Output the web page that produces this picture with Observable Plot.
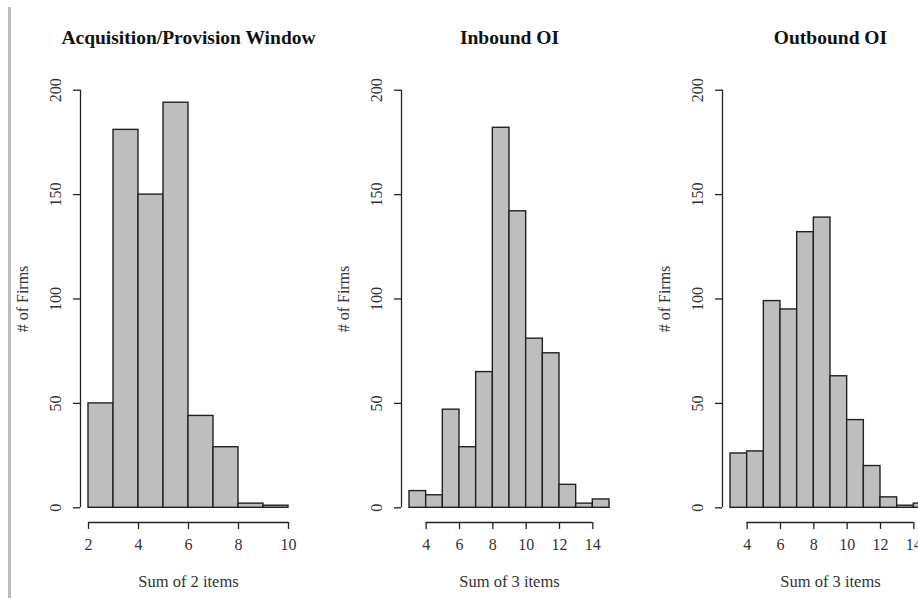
<!DOCTYPE html>
<html>
<head>
<meta charset="utf-8">
<script src="https://cdn.jsdelivr.net/npm/d3@7"></script>
<script src="https://cdn.jsdelivr.net/npm/@observablehq/plot@0.6"></script>
<style>
  html, body { margin: 0; padding: 0; background: #fff; overflow: hidden; }
  #wrap { position: relative; width: 918px; height: 598px; overflow: hidden; }
  #edge { position: absolute; left: 8px; top: 7px; width: 3px; height: 591px; background: #bdbdbd; }
  .panel { position: absolute; top: 0; }
</style>
</head>
<body>
<div id="wrap"><div id="edge"></div></div>
<script>
// ---- data ----
const titles = ["Acquisition/Provision Window", "Inbound OI", "Outbound OI"];
const xLabels = ["Sum of 2 items", "Sum of 3 items", "Sum of 3 items"];
const yLabel = "# of Firms";
const yTicks = [0, 50, 100, 150, 200];

const acqBreaks = [2, 3, 4, 5, 6, 7, 8, 9, 10];
const acqCounts = [50, 181, 150, 194, 44, 29, 2, 1];
const acqTicks = [2, 4, 6, 8, 10];

const inBreaks = [3, 4, 5, 6, 7, 8, 9, 10, 11, 12, 13, 14, 15];
const inCounts = [8, 6, 47, 29, 65, 182, 142, 81, 74, 11, 2, 4];
const inTicks = [4, 6, 8, 10, 12, 14];

const outBreaks = [3, 4, 5, 6, 7, 8, 9, 10, 11, 12, 13, 14, 15];
const outCounts = [26, 27, 99, 95, 132, 139, 63, 42, 20, 5, 1, 2];
const outTicks = [4, 6, 8, 10, 12, 14];

const panels = [
  {breaks: acqBreaks, counts: acqCounts, ticks: acqTicks, left: 0},
  {breaks: inBreaks, counts: inCounts, ticks: inTicks, left: 321},
  {breaks: outBreaks, counts: outCounts, ticks: outTicks, left: 642}
];

const FONT = "'Liberation Serif', 'DejaVu Serif', serif";
const wrap = document.getElementById("wrap");

panels.forEach((p, i) => {
  const bins = p.counts.map((c, k) => ({x1: p.breaks[k], x2: p.breaks[k + 1], y: c}));
  const lo = p.breaks[0], hi = p.breaks[p.breaks.length - 1];
  const pad = (hi - lo) * 0.04;
  const xDom = [lo - pad, hi + pad];
  const yDom = [-8, 208];

  const chart = Plot.plot({
    width: 336,
    height: 598,
    marginLeft: 80,
    marginRight: 40,
    marginTop: 73,
    marginBottom: 74,
    style: {fontFamily: FONT, fontSize: "16px", color: "#222", background: "transparent"},
    x: {type: "linear", domain: xDom, axis: null},
    y: {type: "linear", domain: yDom, axis: null},
    marks: [
      Plot.rectY(bins, {x1: "x1", x2: "x2", y1: 0, y2: "y", fill: "#bebebe", stroke: "#222", strokeWidth: 1.4}),
      // y axis
      Plot.ruleX([xDom[0]], {y1: yTicks[0], y2: yTicks[yTicks.length - 1], stroke: "#222", strokeWidth: 1.3}),
      Plot.axisY(yTicks, {tickSize: 7, tickFormat: () => "", stroke: "#222", strokeWidth: 1.3, label: null}),
      Plot.text(yTicks, {x: () => xDom[0], y: d => d, text: d => String(d), rotate: -90, dx: -25, textAnchor: "middle", fill: "#333", fontSize: 16}),
      // x axis
      Plot.ruleY([yDom[0]], {x1: p.ticks[0], x2: p.ticks[p.ticks.length - 1], stroke: "#222", strokeWidth: 1.3, dy: -2}),
      Plot.axisX(p.ticks, {tickSize: 7, tickPadding: 9, stroke: "#222", strokeWidth: 1.3, fontSize: 16, fill: "#333", label: null, dy: -2}),
      // labels
      Plot.text([titles[i]], {x: () => (lo + hi) / 2, frameAnchor: "top", dy: -43, fontWeight: "bold", fontSize: 19.5, fill: "#111"}),
      Plot.text([xLabels[i]], {x: () => (lo + hi) / 2, frameAnchor: "bottom", dy: 62, fontSize: 16.5, fill: "#333"}),
      Plot.text([yLabel], {frameAnchor: "left", dx: -58, rotate: -90, textAnchor: "middle", fontSize: 16, fill: "#333"})
    ]
  });
  chart.classList.add("panel");
  chart.style.left = p.left + "px";
  wrap.appendChild(chart);
});
</script>
</body>
</html>
